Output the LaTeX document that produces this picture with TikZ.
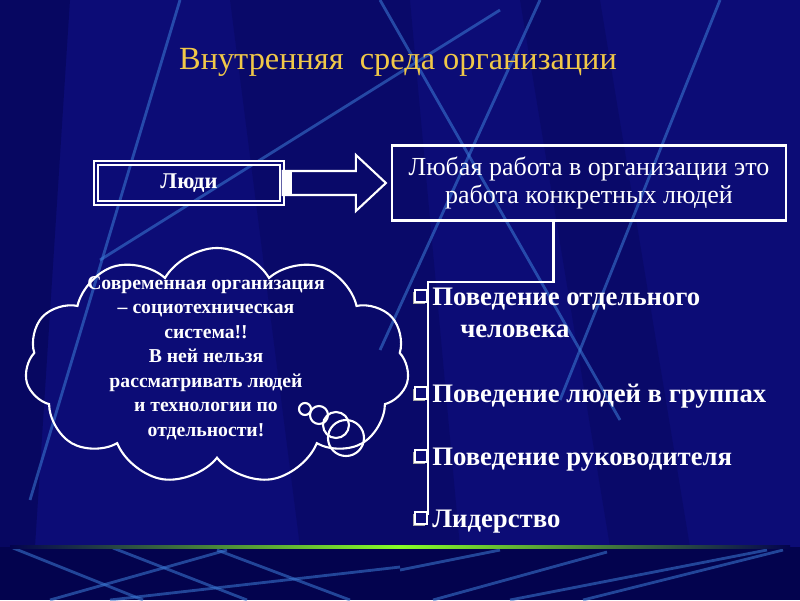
\documentclass[tikz,border=0pt]{standalone}
\usepackage{fontspec}
\setmainfont{Liberation Serif}
\usetikzlibrary{calc,shapes.symbols,positioning}
\definecolor{slidebg}{RGB}{12,12,118}
\definecolor{slidedark}{RGB}{3,3,78}
\definecolor{streak}{RGB}{60,125,215}
\definecolor{headgold}{RGB}{240,200,72}
\tikzset{
  headtext/.style={text=headgold, font=\fontsize{23}{28}\selectfont},
  peoplebox/.style={draw=white, double=slidebg, double distance=1.6pt, line width=1.1pt,
    text=white, font=\bfseries\fontsize{16}{19}\selectfont, minimum width=4.65cm, minimum height=1cm},
  workbox/.style={draw=white, line width=1.5pt, text=white, align=center,
    font=\fontsize{18.5}{19.5}\selectfont, minimum width=9.85cm, minimum height=1.875cm},
  blockarrow/.style={draw=white, line width=1.5pt, line join=miter},
  tie/.style={draw=white, line width=2pt},
  itemtext/.style={text=white, inner sep=0pt, anchor=base west, font=\bfseries\fontsize{19}{23}\selectfont},
  thought/.style={cloud, cloud puffs=11, cloud puff arc=120, cloud ignores aspect, draw=white,
    line width=1.5pt, minimum width=9.6cm, minimum height=5.9cm},
  claimtext/.style={text=white, align=center, font=\bfseries\fontsize{14}{17.4}\selectfont},
  bubble/.style={draw=white, line width=1.5pt},
  streakline/.style={draw=streak, line width=2pt, opacity=0.55},
}
\begin{document}
\begin{tikzpicture}[x=0.025cm, y=-0.025cm]
  \fill[slidebg] (0,0) rectangle (800,600);
  \fill[slidedark, opacity=0.5] (0,0) -- (70,0) -- (35,547) -- (0,547) -- cycle;
  \fill[slidedark, opacity=0.3] (230,0) -- (410,0) -- (460,547) -- (300,547) -- cycle;
  \fill[slidedark, opacity=0.3] (520,0) -- (600,0) -- (690,547) -- (610,547) -- cycle;
  \begin{scope}
    \clip (0,0) rectangle (800,545);
    \foreach \ax/\ay/\bx/\by in {180/0/30/500, 500/10/100/260, 540/0/380/350,
        380/0/620/420, 720/0/560/400} {
      \draw[streakline] (\ax,\ay) -- (\bx,\by);
    }
  \end{scope}
  \fill[slidedark] (0,547) rectangle (800,600);
  \begin{scope}
    \clip (0,549) rectangle (800,600);
    \foreach \ax/\ay/\bx/\by in {13/548/143/600, 113/548/247/600, 217/550/350/600,
        50/600/227/550, 110/600/400/567, 400/570/500/550, 433/600/607/552,
        510/600/767/550, 583/600/783/550} {
      \draw[streakline] (\ax,\ay) -- (\bx,\by);
    }
  \end{scope}
  \shade[left color=slidedark, right color=slidedark, middle color=green!55!yellow!85!white]
    (10,545.5) rectangle (790,548.5);

  \node[headtext] (head) at (398,62) {Внутренняя\ \ среда организации};

  \node[peoplebox] (people) at (189,183) {Люди};
  \node[workbox] (work) at (589,183) {Любая работа в организации это\\работа конкретных людей};
  \coordinate (tip) at ($(work.west)+(-5,0)$);
  \fill[white] ($(people.east)+(0,-12)$) rectangle ($(people.east)+(9,12)$);
  \draw[blockarrow] ($(people.east)+(0,-12)$) -- ($(tip)+(-30,-12)$) -- ($(tip)+(-30,-28)$)
    -- (tip) -- ($(tip)+(-30,28)$) -- ($(tip)+(-30,12)$) -- ($(people.east)+(0,12)$) -- cycle;

  \node[itemtext] (single) at (432,305) {Поведение отдельного};
  \node[itemtext] (single2) at (460,337) {человека};
  \node[itemtext] (group) at (432,402) {Поведение людей в группах};
  \node[itemtext] (boss) at (432,465) {Поведение руководителя};
  \node[itemtext] (leader) at (432,527) {Лидерство};

  \coordinate (tap) at ($(work.south west)!0.41!(work.south east)$);
  \coordinate (spine) at (428,515);
  \draw[tie] (tap) |- (428,282) -- (spine);
  \foreach \n in {single,group,boss,leader} {
    \fill[gray!70] ($(\n.base west)+(-19,-13)$) rectangle ++(12,12);
    \draw[white, line width=1pt, fill=slidebg] ($(\n.base west)+(-17,-15)$) rectangle ++(12,12);
  }

  \node[thought] (cloud) at (217,366) {};
  \node[claimtext] (claim) at (206,358) {Современная организация\\– социотехническая\\система!!\\В ней нельзя\\рассматривать людей\\и технологии по\\отдельности!};
  \foreach \cx/\cy/\r in {305/409/6, 319/415/9, 336/425/13, 346/438/18} {
    \draw[bubble] (\cx,\cy) circle (\r);
  }
\end{tikzpicture}
\end{document}
